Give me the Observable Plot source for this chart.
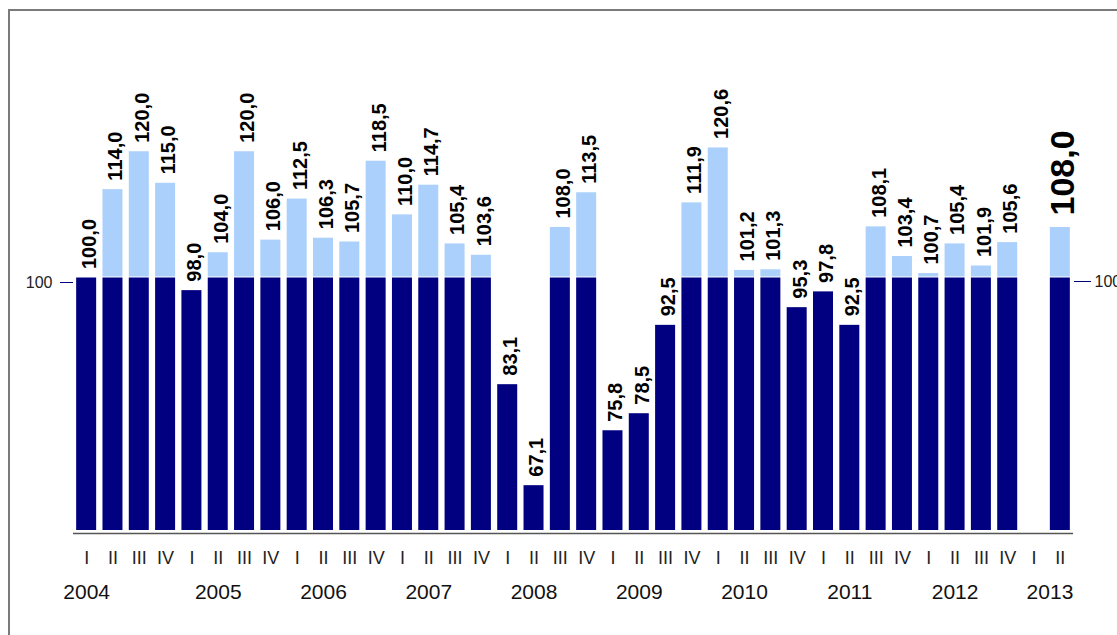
<!DOCTYPE html>
<html><head><meta charset="utf-8">
<script src="https://cdn.jsdelivr.net/npm/d3@7"></script>
<script src="https://cdn.jsdelivr.net/npm/@observablehq/plot@0.6"></script>
<style>
html,body{margin:0;padding:0;background:#fff;}
#wrap{position:relative;width:1117px;height:635px;overflow:hidden;}
#frame{position:absolute;left:8px;top:9px;right:-10px;bottom:-10px;border-top:2px solid #7a7a7a;border-left:2px solid #7a7a7a;}
#chart{position:absolute;left:0;top:0;}
</style></head><body>
<div id="wrap"><div id="frame"></div><div id="chart"></div></div>
<script>
// Data
const years = ["2004","2005","2006","2007","2008","2009","2010","2011","2012","2013"];
const quarterNames = ["I","II","III","IV"];
// quarterly index values, 2004 I ... 2013 II (2013 I has no bar)
const values = [
  100.0, 114.0, 120.0, 115.0,
  98.0, 104.0, 120.0, 106.0,
  112.5, 106.3, 105.7, 118.5,
  110.0, 114.7, 105.4, 103.6,
  83.1, 67.1, 108.0, 113.5,
  75.8, 78.5, 92.5, 111.9,
  120.6, 101.2, 101.3, 95.3,
  97.8, 92.5, 108.1, 103.4,
  100.7, 105.4, 101.9, 105.6,
  null, 108.0
];
const baseValue = 100;
const yDomain = [60, 140];

const data = values.map((v, i) => ({
  key: years[Math.floor(i / 4)] + " " + quarterNames[i % 4],
  year: years[Math.floor(i / 4)],
  q: quarterNames[i % 4],
  value: v,
  last: i === values.length - 1
}));
const withBars = data.filter(d => d.value != null);
const fmt = v => v.toFixed(1).replace(".", ",");
const dark = "#000080", light = "#abd0fb";

const yearLabelsMid = data.filter(d => d.q === "II" && d.year !== years[0] && d.year !== years[years.length - 1]);
const yearFirst = data.filter(d => d.q === "I" && d.year === years[0]);
const yearLast = data.filter(d => d.q === "II" && d.year === years[years.length - 1]);

const chart = Plot.plot({
  width: 1117,
  height: 635,
  marginLeft: 73,
  marginRight: 44,
  marginTop: 25,
  marginBottom: 105,
  style: {fontFamily: "'Liberation Sans', Arial, sans-serif", background: "transparent", overflow: "visible"},
  x: {type: "band", domain: data.map(d => d.key), paddingInner: 0.24, paddingOuter: 0.12, round: false, axis: null},
  y: {domain: yDomain, axis: null},
  marks: [
    Plot.barY(withBars, {x: "key", y1: () => yDomain[0], y2: d => Math.min(d.value, baseValue), fill: dark}),
    Plot.barY(withBars.filter(d => d.value > baseValue), {x: "key", y1: () => baseValue, y2: "value", fill: light, insetBottom: 1}),
    Plot.ruleY([yDomain[0]], {dy: 3, stroke: "#555", strokeWidth: 1.5}),
    Plot.text(withBars.filter(d => !d.last), {x: "key", y: "value", text: d => fmt(d.value), rotate: -90, textAnchor: "start", dy: -9, dx: 3, fontWeight: "bold", fontSize: 20, fill: "#000"}),
    Plot.text(withBars.filter(d => d.last), {x: "key", y: "value", text: d => fmt(d.value), rotate: -90, textAnchor: "start", dy: -12, dx: 3, fontWeight: "bold", fontSize: 34, fill: "#000"}),
    Plot.text(data, {x: "key", y: () => yDomain[0], text: "q", dy: 28, fontSize: 18, fill: "#222"}),
    Plot.text(yearLabelsMid, {x: "key", y: () => yDomain[0], text: "year", dy: 62, fontSize: 21, fill: "#111"}),
    Plot.text(yearFirst, {x: "key", y: () => yDomain[0], text: "year", dy: 62, fontSize: 21, fill: "#111"}),
    Plot.text(yearLast, {x: "key", y: () => yDomain[0], text: "year", dy: 62, dx: 13, textAnchor: "end", fontSize: 21, fill: "#111"}),
    Plot.axisY([baseValue], {anchor: "left", label: null, tickSize: 13, tickPadding: 8, dy: 4.5, stroke: dark, fontSize: 16, fill: "#222", tickFormat: d => String(d)}),
    Plot.axisY([baseValue], {anchor: "right", label: null, tickSize: 17, tickPadding: 4, dy: 3.5, stroke: dark, fontSize: 16, fill: "#222", tickFormat: d => String(d)})
  ]
});
document.getElementById("chart").appendChild(chart);
</script>
</body></html>
